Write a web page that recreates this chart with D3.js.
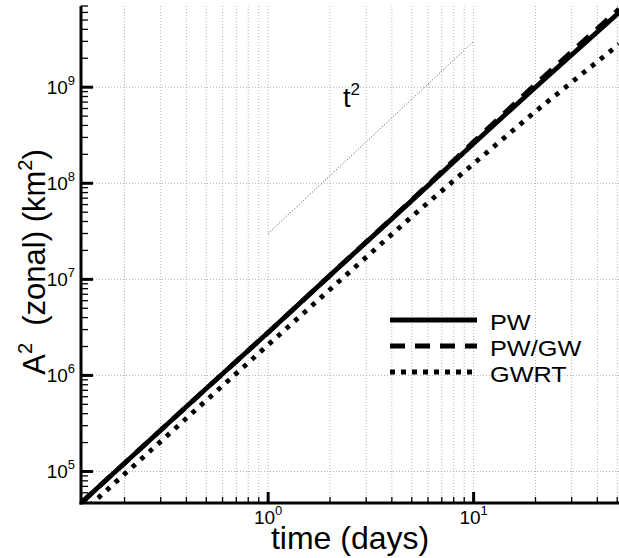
<!DOCTYPE html>
<html>
<head>
<meta charset="utf-8">
<script src="https://cdn.jsdelivr.net/npm/d3@7"></script>
<style>
  body { margin: 0; background: #fff; }
  svg { display: block; font-family: "Liberation Sans", Arial, Helvetica, sans-serif; }
</style>
</head>
<body>
<svg id="chart" width="619" height="558"></svg>
<script>
// time in days, A^2 in km^2
var time = [0.1228, 0.2, 0.5, 1, 2, 5, 10, 20, 51];
var pw   = [4.7e4, 1.22e5, 7.3e5, 2.8e6, 1.1e7, 6.6e7, 2.6e8, 1.0e9, 6.0e9];
var pwgw = [4.7e4, 1.22e5, 7.3e5, 2.8e6, 1.1e7, 6.7e7, 2.7e8, 1.07e9, 6.5e9];
var gwrt = [3.65e4, 9.4e4, 5.5e5, 2.08e6, 7.85e6, 4.5e7, 1.6e8, 5.6e8, 2.8e9];

// t^2 guide line
var refTime = [1, 10];
var refVal  = [3e7, 3e9];

var xMajor = [1, 10];
var yMajor = [1e5, 1e6, 1e7, 1e8, 1e9];

var seriesNames = ["PW", "PW/GW", "GWRT"];

var svg = d3.select("#chart");
var pLeft = 81, pRight = 619, pTop = 6, pBottom = 503;

var x = d3.scaleLog().domain([0.1228, 51]).range([pLeft, pRight]);
var y = d3.scaleLog().domain([4.7e4, 7e9]).range([pBottom, pTop]);

svg.append("defs").append("clipPath").attr("id", "clip")
  .append("rect").attr("x", pLeft).attr("y", pTop)
  .attr("width", pRight - pLeft).attr("height", pBottom - pTop);

// grid
var grid = svg.append("g");
grid.selectAll(".vg").data(x.ticks()).enter().append("line")
  .attr("x1", function(d){ return x(d); }).attr("x2", function(d){ return x(d); })
  .attr("y1", pTop).attr("y2", pBottom)
  .attr("stroke", "#b0b0b0").attr("stroke-width", 1).attr("stroke-dasharray", "1,2");
grid.selectAll(".hg").data(yMajor).enter().append("line")
  .attr("x1", pLeft).attr("x2", pRight)
  .attr("y1", function(d){ return y(d); }).attr("y2", function(d){ return y(d); })
  .attr("stroke", "#b0b0b0").attr("stroke-width", 1).attr("stroke-dasharray", "1,2");

// data lines
var plot = svg.append("g").attr("clip-path", "url(#clip)");
var line = d3.line()
  .x(function(d){ return x(d[0]); })
  .y(function(d){ return y(d[1]); });

plot.append("path")
  .datum(d3.zip(refTime, refVal))
  .attr("d", line).attr("fill", "none")
  .attr("stroke", "#333").attr("stroke-width", 0.9).attr("stroke-dasharray", "1,2");

plot.append("path")
  .datum(d3.zip(time, gwrt))
  .attr("d", line).attr("fill", "none")
  .attr("stroke", "#000").attr("stroke-width", 4.8).attr("stroke-dasharray", "4.5,7");

plot.append("path")
  .datum(d3.zip(time, pw))
  .attr("d", line).attr("fill", "none")
  .attr("stroke", "#000").attr("stroke-width", 4.8);

plot.append("path")
  .datum(d3.zip(time, pwgw))
  .attr("d", line).attr("fill", "none")
  .attr("stroke", "#000").attr("stroke-width", 4.8).attr("stroke-dasharray", "15,10");

// axes
var ax = svg.append("g");
ax.selectAll(".xmin").data(x.ticks()).enter().append("line")
  .attr("x1", function(d){ return x(d); }).attr("x2", function(d){ return x(d); })
  .attr("y1", pBottom).attr("y2", function(d){ return xMajor.indexOf(d) >= 0 ? pBottom - 11 : pBottom - 6; })
  .attr("stroke", "#000").attr("stroke-width", function(d){ return xMajor.indexOf(d) >= 0 ? 3 : 1.3; });
ax.selectAll(".ymin").data(y.ticks()).enter().append("line")
  .attr("y1", function(d){ return y(d); }).attr("y2", function(d){ return y(d); })
  .attr("x1", pLeft).attr("x2", function(d){ return yMajor.indexOf(d) >= 0 ? pLeft + 12 : pLeft + 7; })
  .attr("stroke", "#000").attr("stroke-width", function(d){ return yMajor.indexOf(d) >= 0 ? 3 : 1.3; });
ax.append("line").attr("x1", pLeft).attr("x2", pLeft).attr("y1", pTop).attr("y2", pBottom + 1.5)
  .attr("stroke", "#000").attr("stroke-width", 3);
ax.append("line").attr("x1", pLeft - 1.5).attr("x2", pRight).attr("y1", pBottom).attr("y2", pBottom)
  .attr("stroke", "#000").attr("stroke-width", 3);

// tick labels
ax.selectAll(".xl").data(xMajor).enter().append("text")
  .attr("x", function(d){ return x(d); }).attr("y", 524)
  .attr("text-anchor", "middle").attr("font-size", 19)
  .each(function(d){
    var t = d3.select(this);
    t.append("tspan").text("10");
    t.append("tspan").attr("dy", -9).attr("font-size", 13).text(Math.round(Math.log10(d)));
  });
ax.selectAll(".yl").data(yMajor).enter().append("text")
  .attr("x", 75).attr("y", function(d){ return y(d) + 7; })
  .attr("text-anchor", "end").attr("font-size", 19)
  .each(function(d){
    var t = d3.select(this);
    t.append("tspan").text("10");
    t.append("tspan").attr("dy", -9).attr("font-size", 13).text(Math.round(Math.log10(d)));
  });

// axis titles
svg.append("text").attr("x", 350).attr("y", 549).attr("text-anchor", "middle")
  .attr("font-size", 32).text("time (days)");
var yt = svg.append("text").attr("transform", "translate(45,262) rotate(-90)")
  .attr("text-anchor", "middle").attr("font-size", 31);
yt.append("tspan").text("A");
yt.append("tspan").attr("dy", -13).attr("font-size", 20).text("2");
yt.append("tspan").attr("dy", 13).text("\u00a0\u00a0(zonal) (km");
yt.append("tspan").attr("dy", -13).attr("font-size", 20).text("2");
yt.append("tspan").attr("dy", 13).text(")");

// t^2 label
var tl = svg.append("text").attr("x", 343).attr("y", 107).attr("font-size", 27);
tl.append("tspan").text("t");
tl.append("tspan").attr("dy", -12).attr("font-size", 17).text("2");

// legend
var legDash = [null, "15,10", "5,6"];
var legend = svg.append("g").attr("transform", "translate(390,320)");
seriesNames.forEach(function(name, i){
  var ly = i * 26;
  legend.append("line").attr("x1", 0).attr("x2", 87).attr("y1", ly).attr("y2", ly)
    .attr("stroke", "#000").attr("stroke-width", 5)
    .attr("stroke-dasharray", legDash[i]);
  legend.append("text")
    .attr("transform", "translate(100," + (ly + 10) + ") scale(1.15,1)")
    .attr("font-size", 22).text(name);
});
</script>
</body>
</html>
